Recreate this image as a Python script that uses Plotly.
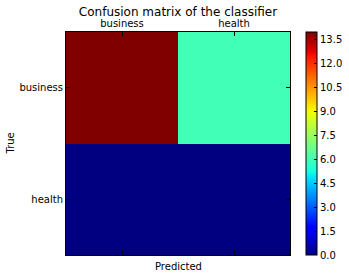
import plotly.graph_objects as go
import numpy as np

categories = ["business", "health"]
values = [[14, 6], [0, 0]]
cbar_ticks = [0.0, 1.5, 3.0, 4.5, 6.0, 7.5, 9.0, 10.5, 12.0, 13.5]

# matplotlib jet colormap
def jet(x):
    r = np.interp(x, [0, 0.35, 0.66, 0.89, 1], [0, 0, 1, 1, 0.5])
    g = np.interp(x, [0, 0.125, 0.375, 0.64, 0.91, 1], [0, 0, 1, 1, 0, 0])
    b = np.interp(x, [0, 0.11, 0.34, 0.65, 1], [0.5, 1, 1, 0, 0])
    return "rgb(%d,%d,%d)" % (round(r * 255), round(g * 255), round(b * 255))

stops = np.linspace(0, 1, 65)
jet_scale = [[float(s), jet(s)] for s in stops]

font = "DejaVu Sans, Bitstream Vera Sans, sans-serif"
W, H = 349, 276

fig = go.Figure(go.Heatmap(
    z=values, x=categories, y=categories,
    colorscale=jet_scale, zmin=0, zmax=14,
    colorbar=dict(
        x=240 / 224, xanchor="left", xpad=0, xref="paper",
        y=0.5, yanchor="middle", yref="paper",
        len=1, lenmode="fraction", ypad=0,
        thickness=11, outlinewidth=1, outlinecolor="black",
        tickvals=cbar_ticks, ticktext=["%.1f" % t for t in cbar_ticks],
        ticks="inside", ticklen=3, tickcolor="black",
        tickfont=dict(family=font, size=10, color="black"),
    ),
    showscale=True, hoverinfo="skip",
))

fig.update_layout(
    width=W, height=H,
    margin=dict(l=66, r=59, t=32, b=21, autoexpand=False),
    paper_bgcolor="white", plot_bgcolor="white",
    font=dict(family=font, size=10, color="black"),
    title=dict(text="Confusion matrix of the classifier", x=178 / W, xanchor="center",
               y=1 - 12 / H, yanchor="middle", font=dict(size=12, family=font, color="black")),
)
fig.update_xaxes(side="top", showline=True, linecolor="black", linewidth=1, mirror="ticks",
                 ticks="inside", ticklen=4, tickcolor="black", showgrid=False, zeroline=False,
                 tickfont=dict(size=10))
fig.update_yaxes(autorange="reversed", showline=True, linecolor="black", linewidth=1, mirror="ticks",
                 ticks="inside", ticklen=4, tickcolor="black", showgrid=False, zeroline=False,
                 tickfont=dict(size=10))
fig.add_annotation(text="Predicted", xref="paper", yref="paper", x=0.5, y=0,
                   yshift=-4, yanchor="top", showarrow=False, font=dict(size=10, family=font))
fig.add_annotation(text="True", xref="paper", yref="paper", x=(10 - 66) / 224, y=0.5,
                   xanchor="center", yanchor="middle", textangle=-90, showarrow=False,
                   font=dict(size=10, family=font))

fig.write_html("out.html")
